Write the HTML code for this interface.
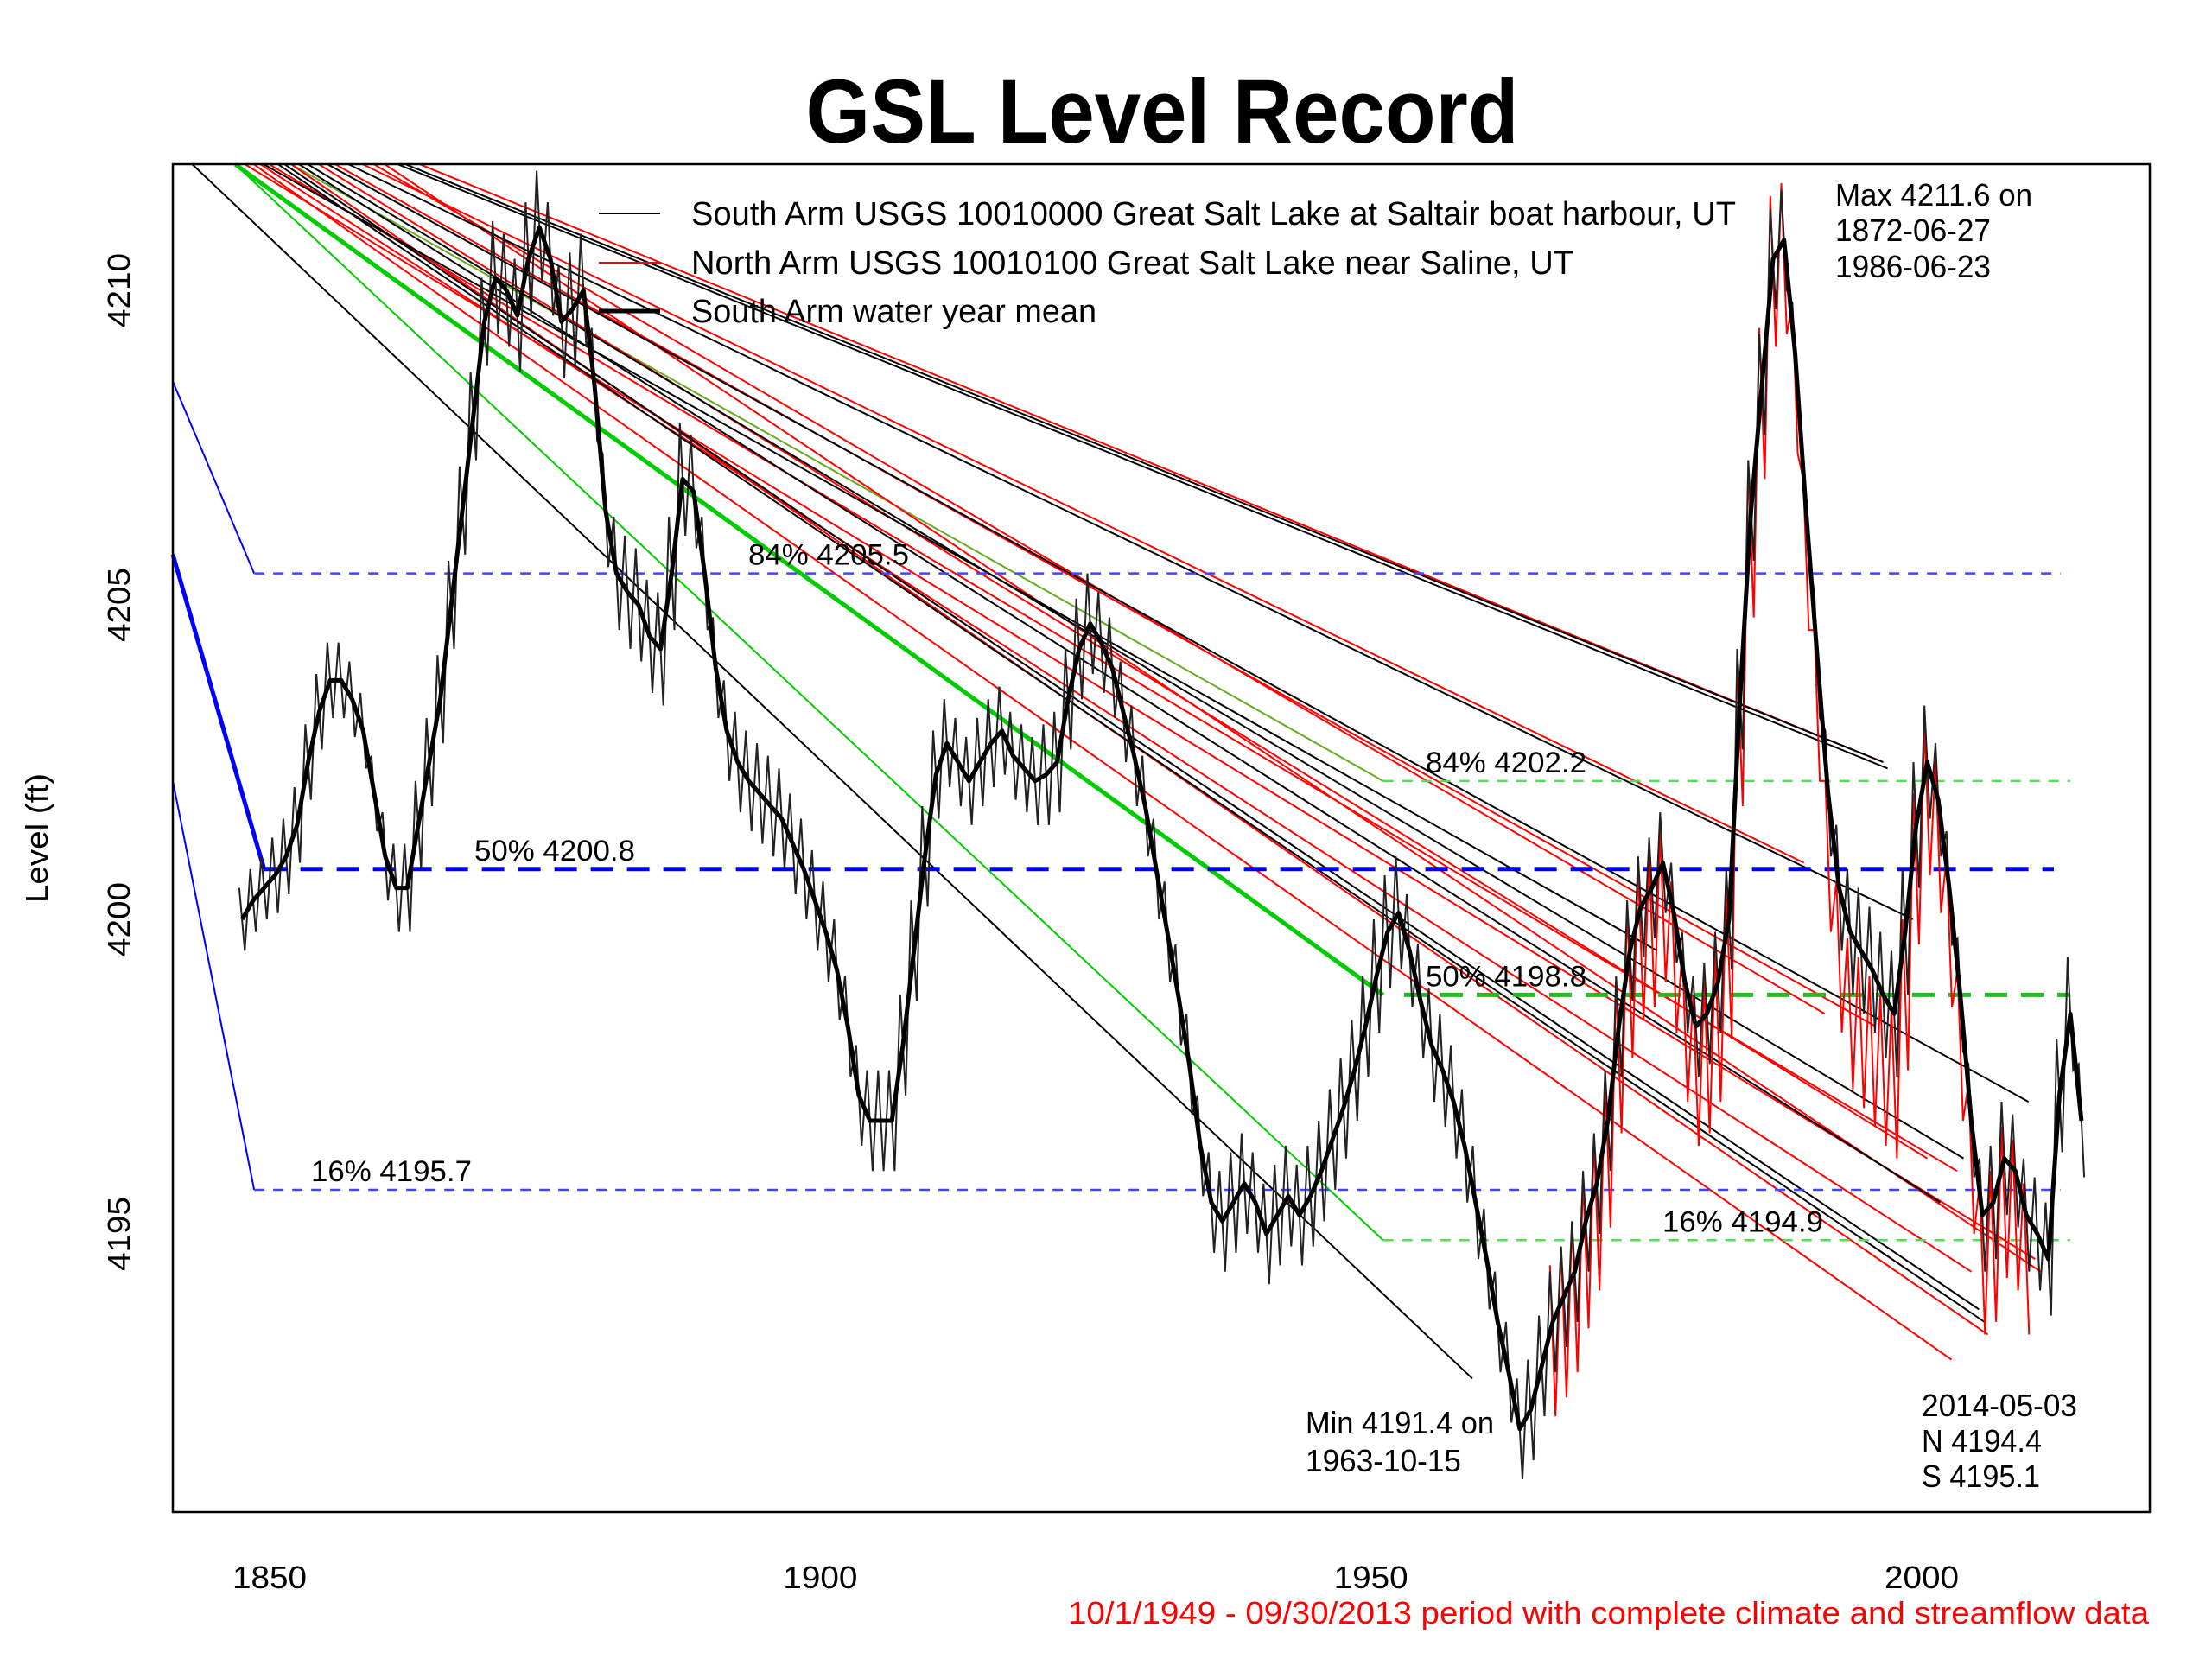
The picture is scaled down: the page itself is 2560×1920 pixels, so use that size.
<!DOCTYPE html>
<html><head><meta charset="utf-8"><style>
html,body{margin:0;padding:0;background:#fff}
svg{display:block}
text{font-family:"Liberation Sans",Arial,sans-serif}
</style></head><body>
<svg id="chart" xmlns="http://www.w3.org/2000/svg" width="2560" height="1920" viewBox="0 0 2560 1920">
<rect x="0" y="0" width="2560" height="1920" fill="#fff"/>
<text x="1345" y="165" font-size="105" font-weight="bold" text-anchor="middle" textLength="825" lengthAdjust="spacingAndGlyphs">GSL Level Record</text>
<g id="fan"></g>
<g id="refs"></g>
<g id="series"></g>
<rect x="200" y="190" width="2288" height="1560" fill="none" stroke="#000" stroke-width="2.5"/>
<g id="axes"></g>
<g>
<line x1="693" y1="247" x2="764" y2="247" stroke="#000" stroke-width="2"/>
<text x="800" y="260" font-size="38" textLength="1209" lengthAdjust="spacingAndGlyphs">South Arm USGS 10010000 Great Salt Lake at Saltair boat harbour, UT</text>
<line x1="693" y1="304" x2="764" y2="304" stroke="#f00" stroke-width="2"/>
<text x="800" y="317" font-size="38" textLength="1021" lengthAdjust="spacingAndGlyphs">North Arm USGS 10010100 Great Salt Lake near Saline, UT</text>
<line x1="693" y1="360" x2="764" y2="360" stroke="#000" stroke-width="5"/>
<text x="800" y="373" font-size="38" textLength="469" lengthAdjust="spacingAndGlyphs">South Arm water year mean</text>
</g>
<g font-size="36">
<text x="2124" y="238" textLength="228" lengthAdjust="spacingAndGlyphs">Max 4211.6 on</text>
<text x="2124" y="279" textLength="180" lengthAdjust="spacingAndGlyphs">1872-06-27</text>
<text x="2124" y="321" textLength="180" lengthAdjust="spacingAndGlyphs">1986-06-23</text>
<text x="1511" y="1659" textLength="218" lengthAdjust="spacingAndGlyphs">Min 4191.4 on</text>
<text x="1511" y="1703" textLength="180" lengthAdjust="spacingAndGlyphs">1963-10-15</text>
<text x="2224" y="1639" textLength="180" lengthAdjust="spacingAndGlyphs">2014-05-03</text>
<text x="2224" y="1680" textLength="139" lengthAdjust="spacingAndGlyphs">N 4194.4</text>
<text x="2224" y="1721" textLength="137" lengthAdjust="spacingAndGlyphs">S 4195.1</text>
<text x="2487" y="1879" fill="#f00" text-anchor="end" textLength="1251" lengthAdjust="spacingAndGlyphs">10/1/1949 - 09/30/2013  period with complete climate and streamflow data</text>
</g>
</svg>
<script>
const NS="http://www.w3.org/2000/svg";
const startYear=1847;
const meanLevel=[4200.0,4200.3,4200.5,
4200.7,4201.0,4201.5,4202.5,4203.3,4203.8,4203.8,4203.5,4203.0,4202.0,
4201.0,4200.5,4200.5,4201.5,4202.5,4203.5,4205.0,4206.5,4208.0,4209.5,
4210.2,4210.0,4209.6,4210.5,4211.0,4210.5,4209.5,4209.7,4210.0,4208.5,
4206.5,4205.5,4205.2,4205.0,4204.5,4204.3,4205.5,4207.0,4206.8,4205.5,
4204.0,4203.0,4202.5,4202.2,4202.0,4201.8,4201.6,4201.2,4200.8,4200.3,
4199.8,4199.2,4198.3,4197.2,4196.8,4196.8,4196.8,4198.0,4199.5,4201.0,
4202.3,4202.8,4202.5,4202.2,4202.5,4202.8,4203.0,4202.6,4202.4,4202.2,
4202.3,4202.5,4203.5,4204.3,4204.7,4204.4,4204.0,4203.3,4202.6,4201.8,
4200.8,4199.8,4198.8,4197.7,4196.4,4195.5,4195.2,4195.5,4195.8,4195.5,
4195.0,4195.3,4195.6,4195.3,4195.6,4196.0,4196.5,4197.0,4197.6,4198.3,
4199.1,4199.8,4200.1,4199.5,4198.7,4198.0,4197.6,4197.1,4196.4,4195.5,
4194.6,4193.6,4192.8,4191.9,4192.2,4192.9,4193.6,4194.0,4194.4,4195.2,
4195.8,4196.8,4198.3,4199.5,4200.2,4200.5,4200.9,4200.1,4199.0,4198.3,
4198.5,4199.0,4200.0,4203.5,4206.5,4208.5,4210.5,4210.8,4209.0,4206.5,
4204.2,4202.0,4200.5,4199.8,4199.5,4199.2,4198.8,4198.5,4199.8,4201.5,
4202.5,4201.9,4200.5,4198.8,4196.8,4195.3,4195.5,4196.2,4196.0,4195.3,
4195.0,4194.6,4197.2,4198.5,4196.8];
// seasonal half-swing per decade (1840s..2010s)
const decadeSwing=[0.5,0.6,0.7,0.9,0.9,0.8,0.8,0.7,0.8,0.8,0.8,0.9,0.8,0.8,0.8,1.0,0.9,0.9];
const northStart=1966;
const northLevel=[4193.3,4193.6,4194.0,4194.7,4195.3,4196.3,4197.8,4199.0,4199.6,4199.8,4200.2,4199.4,4198.3,4197.6,4197.8,4198.3,4199.3,4203.0,4206.0,4208.2,4210.3,4210.5,4208.6,4205.8,4203.4,4201.0,4199.4,4198.5,4198.2,4197.9,4197.6,4197.4,4198.8,4200.8,4201.9,4201.3,4199.8,4198.0,4196.2,4194.6,4194.8,4195.5,4195.3,4194.6,4194.2,4193.9,4196.6,4198.0,4196.2];
const northSwing=[1.2,1.2,1.2,1.2,1.2];
// trend lines: [startYear at top, endYear, endLevel]
const fanBlackStart=[1843.0,1862.4,1861.7,1857.2,1855.3,1850.8,1851.4,1852.7,1853.5,1849.5];
const fanBlackEnd=[1959.2,1996.5,1996.9,1999.2,2009.7,2005.7,2005.2,2001.7,2003.8,1976.0];
const fanBlackLevel=[4192.7,4202.5,4202.4,4200.0,4197.1,4193.6,4193.8,4195.5,4196.2,4199.5];
const fanRedStart=[1863.7,1858.5,1847.8,1848.6,1852.0,1850.0,1854.5,1856.0,1859.5,1860.5,1849.2];
const fanRedEnd=[1996.5,1989.3,2010.3,2002.7,2006.0,2003.2,2000.5,1995.8,1991.2,2010.8,2004.5];
const fanRedLevel=[4202.5,4200.9,4194.6,4193.0,4193.4,4196.0,4196.2,4198.3,4198.5,4194.4,4194.4];
const blueLevels=[4205.5,4200.8,4195.7];
const blueLabels=["84% 4205.5","50% 4200.8","16% 4195.7"];
const greenLevels=[4202.2,4198.8,4194.9];
const greenLabels=["84% 4202.2","50% 4198.8","16% 4194.9"];
const xTicks=[1850,1900,1950,2000];
const yTicks=[4195,4200,4205,4210];

const X0=200,X1=2488,Y0=190,Y1=1750,TOP=4212.0;
function xs(yr){return 312+(yr-1850)*12.747;}
function ys(l){return 1064-(l-4200)*72.8;}
function el(tag,attrs,parent){const e=document.createElementNS(NS,tag);for(const k in attrs)e.setAttribute(k,attrs[k]);parent.appendChild(e);return e;}
const fan=document.getElementById('fan'),refs=document.getElementById('refs'),series=document.getElementById('series'),axes=document.getElementById('axes');

// blue slanted lines from left edge to percentile starts
const blueEdge=[4208.55,4205.8,4202.2];
blueLevels.forEach((lv,i)=>{
  const l=el('line',{x1:X0,y1:ys(blueEdge[i]),x2:xs(i==1?1849.5:1848.6),y2:ys(lv),stroke:'#0000ff','stroke-width':i==1?5:2},refs);
  
  
  const d=el('line',{x1:xs(i==1?1849.5:1848.6),y1:ys(lv),x2:xs(i==1?2012:2012.6),y2:ys(lv),stroke:i==1?'#0000ee':'#4444ff','stroke-width':i==1?5:2.5,'stroke-dasharray':i==1?'26,16':'12,10'},refs);
  
  
});
// green slanted lines
const greenStart=[1852.0,1846.9,1846.9];
greenLevels.forEach((lv,i)=>{
  const s=el('line',{x1:xs(greenStart[i]),y1:ys(TOP),x2:xs(1951.1),y2:ys(lv),stroke:i==0?'#66aa22':'#00cc00','stroke-width':i==1?5:2},fan);
  
  
  const d=el('line',{x1:xs(i==1?1953:1951.1),y1:ys(lv),x2:xs(2013.5),y2:ys(lv),stroke:i==1?'#22bb22':'#55dd55','stroke-width':i==1?5:2.5,'stroke-dasharray':i==1?'26,16':'12,10'},refs);
  
  
});
fanRedStart.forEach((s,i)=>{
  const l=el('line',{x1:xs(s),y1:ys(TOP),x2:xs(fanRedEnd[i]),y2:ys(fanRedLevel[i]),stroke:'#ff0000','stroke-width':2},fan);
  
  
});
fanBlackStart.forEach((s,i)=>{
  const l=el('line',{x1:xs(s),y1:ys(TOP),x2:xs(fanBlackEnd[i]),y2:ys(fanBlackLevel[i]),stroke:'#000','stroke-width':2},fan);
  
  
});
// percentile labels
const bPos=[[866,1848.6],[549,0],[360,0]],gPos=[1650,1650,1924];
blueLabels.forEach((t,i)=>{
  const tx=el('text',{x:[866,549,360][i],y:ys(blueLevels[i])-10,'font-size':34,textLength:186,lengthAdjust:'spacingAndGlyphs'},refs);
  tx.textContent=t;
  
  
});
greenLabels.forEach((t,i)=>{
  const tx=el('text',{x:gPos[i],y:ys(greenLevels[i])-10,'font-size':34,textLength:186,lengthAdjust:'spacingAndGlyphs'},refs);
  tx.textContent=t;
  
  
});
// North arm thin red
let dN='';
northLevel.forEach((v,i)=>{const yr=northStart+i,s=northSwing[Math.floor((yr-1960)/10)];
  dN+=(i?'L':'M')+xs(yr+0.25).toFixed(1)+','+ys(v+s).toFixed(1)+'L'+xs(yr+0.75).toFixed(1)+','+ys(v-s).toFixed(1);});
const pn=el('path',{d:dN,fill:'none',stroke:'#ff0000','stroke-width':2},series);


// South arm thin
let dS='';
meanLevel.forEach((v,i)=>{const yr=startYear+i,s=decadeSwing[Math.floor((yr-1840)/10)];
  dS+=(i?'L':'M')+xs(yr+0.25).toFixed(1)+','+ys(v+s).toFixed(1)+'L'+xs(yr+0.75).toFixed(1)+','+ys(v-s).toFixed(1);});
const ps=el('path',{d:dS,fill:'none',stroke:'#222','stroke-width':2},series);


// mean
let dM='';
meanLevel.forEach((v,i)=>{dM+=(i?'L':'M')+xs(startYear+i+0.5).toFixed(1)+','+ys(v).toFixed(1);});
const pm=el('path',{d:dM,fill:'none',stroke:'#000','stroke-width':5,'stroke-linejoin':'round'},series);


// axes
xTicks.forEach(t=>{
  const tx=el('text',{x:xs(t),y:1838,'font-size':36,'text-anchor':'middle',textLength:86,lengthAdjust:'spacingAndGlyphs'},axes);
  tx.textContent=t;
  
  
});
yTicks.forEach(t=>{
  const y=ys(t);
  const tx=el('text',{x:150,y:y,'font-size':36,'text-anchor':'middle',transform:'rotate(-90 150 '+y+')',textLength:86,lengthAdjust:'spacingAndGlyphs'},axes);
  tx.setAttribute('x',150);tx.setAttribute('y',y);
  tx.setAttribute('dy',0);
  tx.textContent=t;
  
  
});
const yl=el('text',{x:0,y:0,'font-size':36,'text-anchor':'middle',transform:'translate(55 970) rotate(-90)',textLength:150,lengthAdjust:'spacingAndGlyphs'},axes);
yl.textContent='Level (ft)';


</script>
</body></html>
